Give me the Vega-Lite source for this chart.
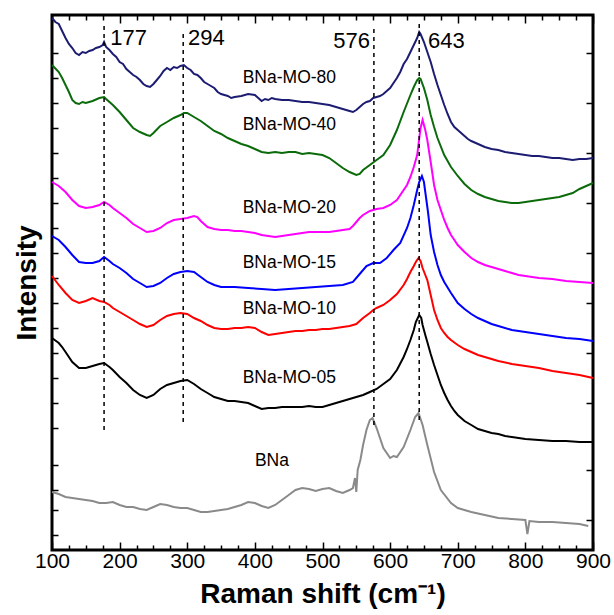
{
  "$schema": "https://vega.github.io/schema/vega-lite/v6.json",
  "width": 541,
  "height": 535,
  "autosize": "none",
  "padding": {"left": 52, "top": 15, "right": 21, "bottom": 65},
  "background": "white",
  "config": {
    "view": {"stroke": "black", "strokeWidth": 3},
    "font": "Liberation Sans",
    "axis": {"grid": false, "domain": false, "tickColor": "black", "tickWidth": 1.5, "labelFont": "Liberation Sans", "titleFont": "Liberation Sans"}
  },
  "layer": [
    {
      "data": {"values": [
        {"s":"BNa-MO-80","x":100,"y":532},{"s":"BNa-MO-80","x":105,"y":528},{"s":"BNa-MO-80","x":110,"y":526},{"s":"BNa-MO-80","x":115,"y":519},{"s":"BNa-MO-80","x":120,"y":512},{"s":"BNa-MO-80","x":125,"y":506},{"s":"BNa-MO-80","x":130,"y":502},{"s":"BNa-MO-80","x":135,"y":497},{"s":"BNa-MO-80","x":140,"y":495},{"s":"BNa-MO-80","x":145,"y":498},{"s":"BNa-MO-80","x":150,"y":497},{"s":"BNa-MO-80","x":155,"y":499},{"s":"BNa-MO-80","x":160,"y":500},{"s":"BNa-MO-80","x":165,"y":502},{"s":"BNa-MO-80","x":170,"y":503},{"s":"BNa-MO-80","x":175,"y":505},{"s":"BNa-MO-80","x":177,"y":508},{"s":"BNa-MO-80","x":180,"y":503},{"s":"BNa-MO-80","x":185,"y":500},{"s":"BNa-MO-80","x":190,"y":496},{"s":"BNa-MO-80","x":195,"y":493},{"s":"BNa-MO-80","x":200,"y":488},{"s":"BNa-MO-80","x":205,"y":486},{"s":"BNa-MO-80","x":210,"y":481},{"s":"BNa-MO-80","x":215,"y":478},{"s":"BNa-MO-80","x":220,"y":475},{"s":"BNa-MO-80","x":225,"y":473},{"s":"BNa-MO-80","x":230,"y":470},{"s":"BNa-MO-80","x":235,"y":466},{"s":"BNa-MO-80","x":240,"y":464},{"s":"BNa-MO-80","x":245,"y":463},{"s":"BNa-MO-80","x":250,"y":466},{"s":"BNa-MO-80","x":255,"y":470},{"s":"BNa-MO-80","x":260,"y":474},{"s":"BNa-MO-80","x":265,"y":479},{"s":"BNa-MO-80","x":270,"y":482},{"s":"BNa-MO-80","x":275,"y":480},{"s":"BNa-MO-80","x":280,"y":483},{"s":"BNa-MO-80","x":285,"y":482},{"s":"BNa-MO-80","x":290,"y":484},{"s":"BNa-MO-80","x":295,"y":485},{"s":"BNa-MO-80","x":300,"y":482},{"s":"BNa-MO-80","x":305,"y":480},{"s":"BNa-MO-80","x":310,"y":476},{"s":"BNa-MO-80","x":315,"y":475},{"s":"BNa-MO-80","x":320,"y":472},{"s":"BNa-MO-80","x":325,"y":468},{"s":"BNa-MO-80","x":330,"y":466},{"s":"BNa-MO-80","x":335,"y":464},{"s":"BNa-MO-80","x":340,"y":462},{"s":"BNa-MO-80","x":345,"y":458},{"s":"BNa-MO-80","x":350,"y":456},{"s":"BNa-MO-80","x":355,"y":455},{"s":"BNa-MO-80","x":360,"y":454},{"s":"BNa-MO-80","x":365,"y":452},{"s":"BNa-MO-80","x":370,"y":453},{"s":"BNa-MO-80","x":380,"y":454},{"s":"BNa-MO-80","x":390,"y":456},{"s":"BNa-MO-80","x":400,"y":455},{"s":"BNa-MO-80","x":405,"y":452},{"s":"BNa-MO-80","x":410,"y":449},{"s":"BNa-MO-80","x":415,"y":451},{"s":"BNa-MO-80","x":420,"y":450},{"s":"BNa-MO-80","x":425,"y":452},{"s":"BNa-MO-80","x":430,"y":451},{"s":"BNa-MO-80","x":440,"y":450},{"s":"BNa-MO-80","x":450,"y":450},{"s":"BNa-MO-80","x":460,"y":449},{"s":"BNa-MO-80","x":470,"y":448},{"s":"BNa-MO-80","x":480,"y":448},{"s":"BNa-MO-80","x":490,"y":447},{"s":"BNa-MO-80","x":500,"y":446},{"s":"BNa-MO-80","x":510,"y":445},{"s":"BNa-MO-80","x":520,"y":443},{"s":"BNa-MO-80","x":530,"y":441},{"s":"BNa-MO-80","x":540,"y":439},{"s":"BNa-MO-80","x":545,"y":438},{"s":"BNa-MO-80","x":550,"y":440},{"s":"BNa-MO-80","x":555,"y":443},{"s":"BNa-MO-80","x":560,"y":446},{"s":"BNa-MO-80","x":565,"y":448},{"s":"BNa-MO-80","x":570,"y":449},{"s":"BNa-MO-80","x":575,"y":452},{"s":"BNa-MO-80","x":580,"y":453},{"s":"BNa-MO-80","x":585,"y":454},{"s":"BNa-MO-80","x":590,"y":456},{"s":"BNa-MO-80","x":595,"y":459},{"s":"BNa-MO-80","x":600,"y":462},{"s":"BNa-MO-80","x":605,"y":467},{"s":"BNa-MO-80","x":610,"y":472},{"s":"BNa-MO-80","x":615,"y":478},{"s":"BNa-MO-80","x":620,"y":486},{"s":"BNa-MO-80","x":625,"y":491},{"s":"BNa-MO-80","x":630,"y":498},{"s":"BNa-MO-80","x":635,"y":505},{"s":"BNa-MO-80","x":640,"y":512},{"s":"BNa-MO-80","x":643,"y":518},{"s":"BNa-MO-80","x":645,"y":516},{"s":"BNa-MO-80","x":650,"y":508},{"s":"BNa-MO-80","x":655,"y":498},{"s":"BNa-MO-80","x":660,"y":488},{"s":"BNa-MO-80","x":665,"y":476},{"s":"BNa-MO-80","x":670,"y":465},{"s":"BNa-MO-80","x":675,"y":455},{"s":"BNa-MO-80","x":680,"y":445},{"s":"BNa-MO-80","x":685,"y":436},{"s":"BNa-MO-80","x":690,"y":428},{"s":"BNa-MO-80","x":695,"y":423},{"s":"BNa-MO-80","x":700,"y":420},{"s":"BNa-MO-80","x":705,"y":417},{"s":"BNa-MO-80","x":710,"y":414},{"s":"BNa-MO-80","x":715,"y":411},{"s":"BNa-MO-80","x":720,"y":409},{"s":"BNa-MO-80","x":730,"y":406},{"s":"BNa-MO-80","x":740,"y":403},{"s":"BNa-MO-80","x":750,"y":401},{"s":"BNa-MO-80","x":760,"y":400},{"s":"BNa-MO-80","x":770,"y":398},{"s":"BNa-MO-80","x":780,"y":397},{"s":"BNa-MO-80","x":790,"y":396},{"s":"BNa-MO-80","x":800,"y":395},{"s":"BNa-MO-80","x":810,"y":394},{"s":"BNa-MO-80","x":820,"y":394},{"s":"BNa-MO-80","x":830,"y":393},{"s":"BNa-MO-80","x":840,"y":392},{"s":"BNa-MO-80","x":850,"y":392},{"s":"BNa-MO-80","x":860,"y":391},{"s":"BNa-MO-80","x":870,"y":390},{"s":"BNa-MO-80","x":880,"y":391},{"s":"BNa-MO-80","x":890,"y":391},{"s":"BNa-MO-80","x":900,"y":392},

        {"s":"BNa-MO-40","x":100,"y":485},{"s":"BNa-MO-40","x":110,"y":478},{"s":"BNa-MO-40","x":115,"y":472},{"s":"BNa-MO-40","x":120,"y":465},{"s":"BNa-MO-40","x":125,"y":458},{"s":"BNa-MO-40","x":130,"y":450},{"s":"BNa-MO-40","x":135,"y":447},{"s":"BNa-MO-40","x":140,"y":446},{"s":"BNa-MO-40","x":145,"y":448},{"s":"BNa-MO-40","x":150,"y":447},{"s":"BNa-MO-40","x":160,"y":449},{"s":"BNa-MO-40","x":170,"y":452},{"s":"BNa-MO-40","x":177,"y":453},{"s":"BNa-MO-40","x":180,"y":451},{"s":"BNa-MO-40","x":185,"y":448},{"s":"BNa-MO-40","x":190,"y":445},{"s":"BNa-MO-40","x":200,"y":438},{"s":"BNa-MO-40","x":210,"y":430},{"s":"BNa-MO-40","x":220,"y":422},{"s":"BNa-MO-40","x":230,"y":418},{"s":"BNa-MO-40","x":240,"y":415},{"s":"BNa-MO-40","x":245,"y":414},{"s":"BNa-MO-40","x":250,"y":417},{"s":"BNa-MO-40","x":260,"y":424},{"s":"BNa-MO-40","x":270,"y":428},{"s":"BNa-MO-40","x":280,"y":432},{"s":"BNa-MO-40","x":290,"y":435},{"s":"BNa-MO-40","x":295,"y":437},{"s":"BNa-MO-40","x":300,"y":437},{"s":"BNa-MO-40","x":310,"y":433},{"s":"BNa-MO-40","x":320,"y":429},{"s":"BNa-MO-40","x":330,"y":424},{"s":"BNa-MO-40","x":340,"y":419},{"s":"BNa-MO-40","x":350,"y":416},{"s":"BNa-MO-40","x":360,"y":412},{"s":"BNa-MO-40","x":370,"y":409},{"s":"BNa-MO-40","x":380,"y":406},{"s":"BNa-MO-40","x":390,"y":404},{"s":"BNa-MO-40","x":400,"y":401},{"s":"BNa-MO-40","x":410,"y":398},{"s":"BNa-MO-40","x":420,"y":397},{"s":"BNa-MO-40","x":430,"y":398},{"s":"BNa-MO-40","x":440,"y":397},{"s":"BNa-MO-40","x":450,"y":398},{"s":"BNa-MO-40","x":460,"y":398},{"s":"BNa-MO-40","x":470,"y":396},{"s":"BNa-MO-40","x":480,"y":397},{"s":"BNa-MO-40","x":490,"y":396},{"s":"BNa-MO-40","x":500,"y":395},{"s":"BNa-MO-40","x":510,"y":392},{"s":"BNa-MO-40","x":520,"y":387},{"s":"BNa-MO-40","x":530,"y":382},{"s":"BNa-MO-40","x":540,"y":378},{"s":"BNa-MO-40","x":550,"y":375},{"s":"BNa-MO-40","x":555,"y":376},{"s":"BNa-MO-40","x":560,"y":380},{"s":"BNa-MO-40","x":570,"y":385},{"s":"BNa-MO-40","x":580,"y":390},{"s":"BNa-MO-40","x":590,"y":395},{"s":"BNa-MO-40","x":600,"y":405},{"s":"BNa-MO-40","x":610,"y":420},{"s":"BNa-MO-40","x":620,"y":438},{"s":"BNa-MO-40","x":630,"y":455},{"s":"BNa-MO-40","x":635,"y":463},{"s":"BNa-MO-40","x":640,"y":470},{"s":"BNa-MO-40","x":643,"y":472},{"s":"BNa-MO-40","x":645,"y":471},{"s":"BNa-MO-40","x":650,"y":462},{"s":"BNa-MO-40","x":655,"y":450},{"s":"BNa-MO-40","x":660,"y":435},{"s":"BNa-MO-40","x":665,"y":423},{"s":"BNa-MO-40","x":670,"y":412},{"s":"BNa-MO-40","x":680,"y":395},{"s":"BNa-MO-40","x":690,"y":383},{"s":"BNa-MO-40","x":700,"y":374},{"s":"BNa-MO-40","x":710,"y":366},{"s":"BNa-MO-40","x":720,"y":360},{"s":"BNa-MO-40","x":730,"y":356},{"s":"BNa-MO-40","x":740,"y":353},{"s":"BNa-MO-40","x":750,"y":351},{"s":"BNa-MO-40","x":760,"y":349},{"s":"BNa-MO-40","x":770,"y":348},{"s":"BNa-MO-40","x":780,"y":347},{"s":"BNa-MO-40","x":790,"y":347},{"s":"BNa-MO-40","x":800,"y":348},{"s":"BNa-MO-40","x":810,"y":349},{"s":"BNa-MO-40","x":820,"y":350},{"s":"BNa-MO-40","x":830,"y":351},{"s":"BNa-MO-40","x":840,"y":352},{"s":"BNa-MO-40","x":850,"y":353},{"s":"BNa-MO-40","x":860,"y":355},{"s":"BNa-MO-40","x":870,"y":357},{"s":"BNa-MO-40","x":880,"y":361},{"s":"BNa-MO-40","x":890,"y":364},{"s":"BNa-MO-40","x":900,"y":367},

        {"s":"BNa-MO-20","x":100,"y":368},{"s":"BNa-MO-20","x":110,"y":364},{"s":"BNa-MO-20","x":120,"y":358},{"s":"BNa-MO-20","x":130,"y":350},{"s":"BNa-MO-20","x":140,"y":344},{"s":"BNa-MO-20","x":150,"y":342},{"s":"BNa-MO-20","x":160,"y":343},{"s":"BNa-MO-20","x":170,"y":345},{"s":"BNa-MO-20","x":177,"y":348},{"s":"BNa-MO-20","x":185,"y":345},{"s":"BNa-MO-20","x":190,"y":342},{"s":"BNa-MO-20","x":200,"y":337},{"s":"BNa-MO-20","x":210,"y":332},{"s":"BNa-MO-20","x":220,"y":326},{"s":"BNa-MO-20","x":230,"y":322},{"s":"BNa-MO-20","x":240,"y":318},{"s":"BNa-MO-20","x":250,"y":319},{"s":"BNa-MO-20","x":260,"y":322},{"s":"BNa-MO-20","x":270,"y":327},{"s":"BNa-MO-20","x":280,"y":330},{"s":"BNa-MO-20","x":290,"y":331},{"s":"BNa-MO-20","x":300,"y":332},{"s":"BNa-MO-20","x":310,"y":334},{"s":"BNa-MO-20","x":315,"y":333},{"s":"BNa-MO-20","x":320,"y":329},{"s":"BNa-MO-20","x":330,"y":323},{"s":"BNa-MO-20","x":340,"y":321},{"s":"BNa-MO-20","x":350,"y":320},{"s":"BNa-MO-20","x":360,"y":320},{"s":"BNa-MO-20","x":370,"y":319},{"s":"BNa-MO-20","x":380,"y":319},{"s":"BNa-MO-20","x":390,"y":318},{"s":"BNa-MO-20","x":400,"y":317},{"s":"BNa-MO-20","x":410,"y":315},{"s":"BNa-MO-20","x":420,"y":314},{"s":"BNa-MO-20","x":430,"y":313},{"s":"BNa-MO-20","x":440,"y":314},{"s":"BNa-MO-20","x":450,"y":315},{"s":"BNa-MO-20","x":460,"y":316},{"s":"BNa-MO-20","x":470,"y":317},{"s":"BNa-MO-20","x":480,"y":318},{"s":"BNa-MO-20","x":490,"y":318},{"s":"BNa-MO-20","x":500,"y":318},{"s":"BNa-MO-20","x":510,"y":318},{"s":"BNa-MO-20","x":520,"y":319},{"s":"BNa-MO-20","x":530,"y":320},{"s":"BNa-MO-20","x":540,"y":321},{"s":"BNa-MO-20","x":545,"y":324},{"s":"BNa-MO-20","x":550,"y":328},{"s":"BNa-MO-20","x":555,"y":332},{"s":"BNa-MO-20","x":560,"y":335},{"s":"BNa-MO-20","x":570,"y":339},{"s":"BNa-MO-20","x":580,"y":341},{"s":"BNa-MO-20","x":590,"y":342},{"s":"BNa-MO-20","x":600,"y":345},{"s":"BNa-MO-20","x":610,"y":350},{"s":"BNa-MO-20","x":620,"y":360},{"s":"BNa-MO-20","x":625,"y":365},{"s":"BNa-MO-20","x":630,"y":373},{"s":"BNa-MO-20","x":635,"y":383},{"s":"BNa-MO-20","x":640,"y":395},{"s":"BNa-MO-20","x":645,"y":422},{"s":"BNa-MO-20","x":648,"y":430},{"s":"BNa-MO-20","x":652,"y":420},{"s":"BNa-MO-20","x":655,"y":410},{"s":"BNa-MO-20","x":660,"y":388},{"s":"BNa-MO-20","x":665,"y":365},{"s":"BNa-MO-20","x":670,"y":350},{"s":"BNa-MO-20","x":675,"y":340},{"s":"BNa-MO-20","x":680,"y":330},{"s":"BNa-MO-20","x":685,"y":322},{"s":"BNa-MO-20","x":690,"y":315},{"s":"BNa-MO-20","x":695,"y":310},{"s":"BNa-MO-20","x":700,"y":305},{"s":"BNa-MO-20","x":710,"y":298},{"s":"BNa-MO-20","x":720,"y":292},{"s":"BNa-MO-20","x":730,"y":288},{"s":"BNa-MO-20","x":740,"y":285},{"s":"BNa-MO-20","x":750,"y":283},{"s":"BNa-MO-20","x":760,"y":281},{"s":"BNa-MO-20","x":770,"y":279},{"s":"BNa-MO-20","x":780,"y":277},{"s":"BNa-MO-20","x":790,"y":275},{"s":"BNa-MO-20","x":800,"y":274},{"s":"BNa-MO-20","x":820,"y":272},{"s":"BNa-MO-20","x":840,"y":271},{"s":"BNa-MO-20","x":860,"y":269},{"s":"BNa-MO-20","x":880,"y":268},{"s":"BNa-MO-20","x":900,"y":267},

        {"s":"BNa-MO-15","x":100,"y":314},{"s":"BNa-MO-15","x":110,"y":310},{"s":"BNa-MO-15","x":120,"y":303},{"s":"BNa-MO-15","x":130,"y":295},{"s":"BNa-MO-15","x":140,"y":288},{"s":"BNa-MO-15","x":150,"y":287},{"s":"BNa-MO-15","x":160,"y":287},{"s":"BNa-MO-15","x":170,"y":289},{"s":"BNa-MO-15","x":177,"y":293},{"s":"BNa-MO-15","x":185,"y":289},{"s":"BNa-MO-15","x":190,"y":286},{"s":"BNa-MO-15","x":200,"y":282},{"s":"BNa-MO-15","x":210,"y":277},{"s":"BNa-MO-15","x":220,"y":271},{"s":"BNa-MO-15","x":230,"y":267},{"s":"BNa-MO-15","x":240,"y":263},{"s":"BNa-MO-15","x":250,"y":264},{"s":"BNa-MO-15","x":260,"y":267},{"s":"BNa-MO-15","x":270,"y":272},{"s":"BNa-MO-15","x":280,"y":276},{"s":"BNa-MO-15","x":290,"y":278},{"s":"BNa-MO-15","x":300,"y":279},{"s":"BNa-MO-15","x":310,"y":278},{"s":"BNa-MO-15","x":320,"y":273},{"s":"BNa-MO-15","x":330,"y":268},{"s":"BNa-MO-15","x":340,"y":265},{"s":"BNa-MO-15","x":350,"y":263},{"s":"BNa-MO-15","x":370,"y":263},{"s":"BNa-MO-15","x":390,"y":262},{"s":"BNa-MO-15","x":410,"y":261},{"s":"BNa-MO-15","x":430,"y":260},{"s":"BNa-MO-15","x":450,"y":261},{"s":"BNa-MO-15","x":470,"y":262},{"s":"BNa-MO-15","x":490,"y":263},{"s":"BNa-MO-15","x":510,"y":264},{"s":"BNa-MO-15","x":530,"y":265},{"s":"BNa-MO-15","x":545,"y":268},{"s":"BNa-MO-15","x":555,"y":276},{"s":"BNa-MO-15","x":565,"y":284},{"s":"BNa-MO-15","x":575,"y":287},{"s":"BNa-MO-15","x":585,"y":287},{"s":"BNa-MO-15","x":595,"y":292},{"s":"BNa-MO-15","x":605,"y":300},{"s":"BNa-MO-15","x":615,"y":307},{"s":"BNa-MO-15","x":625,"y":322},{"s":"BNa-MO-15","x":630,"y":332},{"s":"BNa-MO-15","x":635,"y":345},{"s":"BNa-MO-15","x":640,"y":360},{"s":"BNa-MO-15","x":643,"y":368},{"s":"BNa-MO-15","x":647,"y":374},{"s":"BNa-MO-15","x":650,"y":368},{"s":"BNa-MO-15","x":652,"y":358},{"s":"BNa-MO-15","x":656,"y":338},{"s":"BNa-MO-15","x":660,"y":315},{"s":"BNa-MO-15","x":665,"y":298},{"s":"BNa-MO-15","x":670,"y":285},{"s":"BNa-MO-15","x":675,"y":275},{"s":"BNa-MO-15","x":680,"y":268},{"s":"BNa-MO-15","x":690,"y":257},{"s":"BNa-MO-15","x":700,"y":247},{"s":"BNa-MO-15","x":710,"y":241},{"s":"BNa-MO-15","x":720,"y":236},{"s":"BNa-MO-15","x":730,"y":232},{"s":"BNa-MO-15","x":740,"y":229},{"s":"BNa-MO-15","x":750,"y":226},{"s":"BNa-MO-15","x":760,"y":224},{"s":"BNa-MO-15","x":780,"y":220},{"s":"BNa-MO-15","x":800,"y":218},{"s":"BNa-MO-15","x":820,"y":216},{"s":"BNa-MO-15","x":840,"y":214},{"s":"BNa-MO-15","x":860,"y":212},{"s":"BNa-MO-15","x":880,"y":211},{"s":"BNa-MO-15","x":900,"y":209},

        {"s":"BNa-MO-10","x":100,"y":274},{"s":"BNa-MO-10","x":110,"y":265},{"s":"BNa-MO-10","x":120,"y":257},{"s":"BNa-MO-10","x":130,"y":250},{"s":"BNa-MO-10","x":140,"y":247},{"s":"BNa-MO-10","x":150,"y":249},{"s":"BNa-MO-10","x":160,"y":252},{"s":"BNa-MO-10","x":170,"y":249},{"s":"BNa-MO-10","x":177,"y":248},{"s":"BNa-MO-10","x":185,"y":245},{"s":"BNa-MO-10","x":190,"y":242},{"s":"BNa-MO-10","x":200,"y":238},{"s":"BNa-MO-10","x":210,"y":234},{"s":"BNa-MO-10","x":220,"y":230},{"s":"BNa-MO-10","x":230,"y":226},{"s":"BNa-MO-10","x":240,"y":223},{"s":"BNa-MO-10","x":250,"y":225},{"s":"BNa-MO-10","x":260,"y":230},{"s":"BNa-MO-10","x":270,"y":234},{"s":"BNa-MO-10","x":280,"y":236},{"s":"BNa-MO-10","x":290,"y":237},{"s":"BNa-MO-10","x":300,"y":236},{"s":"BNa-MO-10","x":310,"y":232},{"s":"BNa-MO-10","x":320,"y":229},{"s":"BNa-MO-10","x":330,"y":225},{"s":"BNa-MO-10","x":340,"y":222},{"s":"BNa-MO-10","x":350,"y":221},{"s":"BNa-MO-10","x":360,"y":221},{"s":"BNa-MO-10","x":370,"y":222},{"s":"BNa-MO-10","x":380,"y":222},{"s":"BNa-MO-10","x":390,"y":223},{"s":"BNa-MO-10","x":400,"y":222},{"s":"BNa-MO-10","x":410,"y":218},{"s":"BNa-MO-10","x":420,"y":215},{"s":"BNa-MO-10","x":430,"y":216},{"s":"BNa-MO-10","x":440,"y":217},{"s":"BNa-MO-10","x":450,"y":218},{"s":"BNa-MO-10","x":460,"y":219},{"s":"BNa-MO-10","x":470,"y":219},{"s":"BNa-MO-10","x":480,"y":220},{"s":"BNa-MO-10","x":490,"y":220},{"s":"BNa-MO-10","x":500,"y":221},{"s":"BNa-MO-10","x":510,"y":221},{"s":"BNa-MO-10","x":520,"y":222},{"s":"BNa-MO-10","x":530,"y":223},{"s":"BNa-MO-10","x":540,"y":224},{"s":"BNa-MO-10","x":550,"y":226},{"s":"BNa-MO-10","x":560,"y":232},{"s":"BNa-MO-10","x":570,"y":237},{"s":"BNa-MO-10","x":575,"y":240},{"s":"BNa-MO-10","x":580,"y":242},{"s":"BNa-MO-10","x":590,"y":245},{"s":"BNa-MO-10","x":600,"y":250},{"s":"BNa-MO-10","x":610,"y":256},{"s":"BNa-MO-10","x":620,"y":265},{"s":"BNa-MO-10","x":625,"y":271},{"s":"BNa-MO-10","x":630,"y":278},{"s":"BNa-MO-10","x":635,"y":284},{"s":"BNa-MO-10","x":638,"y":288},{"s":"BNa-MO-10","x":642,"y":292},{"s":"BNa-MO-10","x":645,"y":289},{"s":"BNa-MO-10","x":648,"y":282},{"s":"BNa-MO-10","x":652,"y":275},{"s":"BNa-MO-10","x":655,"y":270},{"s":"BNa-MO-10","x":660,"y":255},{"s":"BNa-MO-10","x":665,"y":240},{"s":"BNa-MO-10","x":670,"y":230},{"s":"BNa-MO-10","x":675,"y":222},{"s":"BNa-MO-10","x":680,"y":217},{"s":"BNa-MO-10","x":685,"y":213},{"s":"BNa-MO-10","x":690,"y":210},{"s":"BNa-MO-10","x":700,"y":205},{"s":"BNa-MO-10","x":710,"y":201},{"s":"BNa-MO-10","x":720,"y":198},{"s":"BNa-MO-10","x":730,"y":195},{"s":"BNa-MO-10","x":740,"y":193},{"s":"BNa-MO-10","x":750,"y":191},{"s":"BNa-MO-10","x":760,"y":189},{"s":"BNa-MO-10","x":780,"y":186},{"s":"BNa-MO-10","x":800,"y":184},{"s":"BNa-MO-10","x":820,"y":182},{"s":"BNa-MO-10","x":840,"y":179},{"s":"BNa-MO-10","x":860,"y":177},{"s":"BNa-MO-10","x":880,"y":175},{"s":"BNa-MO-10","x":900,"y":172},

        {"s":"BNa-MO-05","x":100,"y":212},{"s":"BNa-MO-05","x":110,"y":207},{"s":"BNa-MO-05","x":115,"y":203},{"s":"BNa-MO-05","x":120,"y":198},{"s":"BNa-MO-05","x":130,"y":188},{"s":"BNa-MO-05","x":140,"y":182},{"s":"BNa-MO-05","x":150,"y":182},{"s":"BNa-MO-05","x":160,"y":184},{"s":"BNa-MO-05","x":170,"y":186},{"s":"BNa-MO-05","x":177,"y":187},{"s":"BNa-MO-05","x":185,"y":183},{"s":"BNa-MO-05","x":190,"y":180},{"s":"BNa-MO-05","x":200,"y":173},{"s":"BNa-MO-05","x":210,"y":167},{"s":"BNa-MO-05","x":220,"y":160},{"s":"BNa-MO-05","x":230,"y":155},{"s":"BNa-MO-05","x":240,"y":152},{"s":"BNa-MO-05","x":250,"y":155},{"s":"BNa-MO-05","x":260,"y":161},{"s":"BNa-MO-05","x":270,"y":165},{"s":"BNa-MO-05","x":280,"y":167},{"s":"BNa-MO-05","x":290,"y":169},{"s":"BNa-MO-05","x":300,"y":170},{"s":"BNa-MO-05","x":310,"y":166},{"s":"BNa-MO-05","x":320,"y":161},{"s":"BNa-MO-05","x":330,"y":157},{"s":"BNa-MO-05","x":340,"y":153},{"s":"BNa-MO-05","x":350,"y":151},{"s":"BNa-MO-05","x":360,"y":149},{"s":"BNa-MO-05","x":370,"y":149},{"s":"BNa-MO-05","x":380,"y":148},{"s":"BNa-MO-05","x":390,"y":147},{"s":"BNa-MO-05","x":400,"y":144},{"s":"BNa-MO-05","x":410,"y":141},{"s":"BNa-MO-05","x":420,"y":142},{"s":"BNa-MO-05","x":430,"y":142},{"s":"BNa-MO-05","x":440,"y":143},{"s":"BNa-MO-05","x":450,"y":143},{"s":"BNa-MO-05","x":460,"y":143},{"s":"BNa-MO-05","x":470,"y":143},{"s":"BNa-MO-05","x":480,"y":144},{"s":"BNa-MO-05","x":490,"y":143},{"s":"BNa-MO-05","x":500,"y":143},{"s":"BNa-MO-05","x":510,"y":145},{"s":"BNa-MO-05","x":520,"y":147},{"s":"BNa-MO-05","x":530,"y":149},{"s":"BNa-MO-05","x":540,"y":151},{"s":"BNa-MO-05","x":550,"y":153},{"s":"BNa-MO-05","x":560,"y":155},{"s":"BNa-MO-05","x":570,"y":158},{"s":"BNa-MO-05","x":580,"y":161},{"s":"BNa-MO-05","x":590,"y":166},{"s":"BNa-MO-05","x":600,"y":171},{"s":"BNa-MO-05","x":610,"y":180},{"s":"BNa-MO-05","x":620,"y":193},{"s":"BNa-MO-05","x":625,"y":201},{"s":"BNa-MO-05","x":630,"y":210},{"s":"BNa-MO-05","x":635,"y":220},{"s":"BNa-MO-05","x":638,"y":228},{"s":"BNa-MO-05","x":643,"y":235},{"s":"BNa-MO-05","x":646,"y":232},{"s":"BNa-MO-05","x":648,"y":225},{"s":"BNa-MO-05","x":652,"y":215},{"s":"BNa-MO-05","x":655,"y":208},{"s":"BNa-MO-05","x":660,"y":196},{"s":"BNa-MO-05","x":665,"y":185},{"s":"BNa-MO-05","x":670,"y":175},{"s":"BNa-MO-05","x":675,"y":165},{"s":"BNa-MO-05","x":680,"y":157},{"s":"BNa-MO-05","x":685,"y":150},{"s":"BNa-MO-05","x":690,"y":144},{"s":"BNa-MO-05","x":695,"y":139},{"s":"BNa-MO-05","x":700,"y":135},{"s":"BNa-MO-05","x":710,"y":129},{"s":"BNa-MO-05","x":720,"y":125},{"s":"BNa-MO-05","x":730,"y":121},{"s":"BNa-MO-05","x":740,"y":119},{"s":"BNa-MO-05","x":750,"y":117},{"s":"BNa-MO-05","x":760,"y":116},{"s":"BNa-MO-05","x":770,"y":114},{"s":"BNa-MO-05","x":780,"y":113},{"s":"BNa-MO-05","x":790,"y":112},{"s":"BNa-MO-05","x":800,"y":111},{"s":"BNa-MO-05","x":820,"y":110},{"s":"BNa-MO-05","x":840,"y":109},{"s":"BNa-MO-05","x":860,"y":109},{"s":"BNa-MO-05","x":880,"y":108},{"s":"BNa-MO-05","x":900,"y":108},

        {"s":"BNa","x":100,"y":58},{"s":"BNa","x":110,"y":56},{"s":"BNa","x":120,"y":53},{"s":"BNa","x":130,"y":52},{"s":"BNa","x":140,"y":51},{"s":"BNa","x":150,"y":50},{"s":"BNa","x":160,"y":49},{"s":"BNa","x":170,"y":47},{"s":"BNa","x":180,"y":47},{"s":"BNa","x":190,"y":48},{"s":"BNa","x":200,"y":45},{"s":"BNa","x":210,"y":43},{"s":"BNa","x":220,"y":43},{"s":"BNa","x":230,"y":41},{"s":"BNa","x":240,"y":40},{"s":"BNa","x":250,"y":43},{"s":"BNa","x":260,"y":46},{"s":"BNa","x":270,"y":45},{"s":"BNa","x":280,"y":43},{"s":"BNa","x":290,"y":42},{"s":"BNa","x":300,"y":42},{"s":"BNa","x":310,"y":40},{"s":"BNa","x":320,"y":38},{"s":"BNa","x":330,"y":38},{"s":"BNa","x":340,"y":39},{"s":"BNa","x":350,"y":40},{"s":"BNa","x":360,"y":41},{"s":"BNa","x":370,"y":43},{"s":"BNa","x":380,"y":45},{"s":"BNa","x":390,"y":48},{"s":"BNa","x":400,"y":47},{"s":"BNa","x":410,"y":44},{"s":"BNa","x":420,"y":42},{"s":"BNa","x":430,"y":45},{"s":"BNa","x":440,"y":50},{"s":"BNa","x":450,"y":55},{"s":"BNa","x":460,"y":60},{"s":"BNa","x":470,"y":62},{"s":"BNa","x":480,"y":61},{"s":"BNa","x":490,"y":59},{"s":"BNa","x":500,"y":61},{"s":"BNa","x":510,"y":62},{"s":"BNa","x":520,"y":59},{"s":"BNa","x":530,"y":57},{"s":"BNa","x":540,"y":60},{"s":"BNa","x":545,"y":62},{"s":"BNa","x":548,"y":72},{"s":"BNa","x":550,"y":58},{"s":"BNa","x":552,"y":80},{"s":"BNa","x":556,"y":90},{"s":"BNa","x":560,"y":105},{"s":"BNa","x":565,"y":120},{"s":"BNa","x":570,"y":130},{"s":"BNa","x":574,"y":132},{"s":"BNa","x":580,"y":122},{"s":"BNa","x":590,"y":102},{"s":"BNa","x":600,"y":92},{"s":"BNa","x":605,"y":94},{"s":"BNa","x":610,"y":93},{"s":"BNa","x":620,"y":103},{"s":"BNa","x":630,"y":120},{"s":"BNa","x":637,"y":133},{"s":"BNa","x":642,"y":137},{"s":"BNa","x":648,"y":125},{"s":"BNa","x":655,"y":105},{"s":"BNa","x":665,"y":78},{"s":"BNa","x":675,"y":60},{"s":"BNa","x":690,"y":47},{"s":"BNa","x":700,"y":42},{"s":"BNa","x":720,"y":38},{"s":"BNa","x":740,"y":35},{"s":"BNa","x":760,"y":32},{"s":"BNa","x":780,"y":31},{"s":"BNa","x":800,"y":30},{"s":"BNa","x":803,"y":16},{"s":"BNa","x":806,"y":29},{"s":"BNa","x":820,"y":28},{"s":"BNa","x":840,"y":28},{"s":"BNa","x":860,"y":27},{"s":"BNa","x":880,"y":26},{"s":"BNa","x":893,"y":24}
      ]},
      "mark": {"type": "line", "interpolate": "linear"},
      "encoding": {
        "x": {"field": "x", "type": "quantitative", "scale": {"domain": [100, 900], "nice": false, "zero": false},
          "axis": {"orient": "bottom", "values": [100,125,150,175,200,225,250,275,300,325,350,375,400,425,450,475,500,525,550,575,600,625,650,675,700,725,750,775,800,825,850,875,900],
            "labelExpr": "datum.value % 100 === 0 ? datum.label : ''", "labelFlush": false, "labelBound": false, "labelOverlap": false,
            "tickSize": {"condition": {"test": "datum.value % 100 === 0", "value": -8}, "value": -5},
            "labelFontSize": 21, "labelColor": "black", "labelPadding": 8,
            "title": "Raman shift (cm⁻¹)", "titleFontSize": 28, "titleFontWeight": "bold", "titleColor": "black", "titlePadding": 6}},
        "y": {"field": "y", "type": "quantitative", "scale": {"domain": [0, 535], "nice": false, "zero": false},
          "axis": {"orient": "left", "values": [497,472,447,422,397,372,347,322,297,272,247,222,197,172,147,122,85,60,40,15],
            "labels": false, "tickSize": -6,
            "title": "Intensity", "titleFontSize": 28, "titleFontWeight": "bold", "titleColor": "black", "titlePadding": 10}},
        "color": {"field": "s", "type": "nominal", "legend": null,
          "scale": {"domain": ["BNa-MO-80","BNa-MO-40","BNa-MO-20","BNa-MO-15","BNa-MO-10","BNa-MO-05","BNa"],
                    "range": ["#1c1c72","#0b6b0b","#ff00ff","#0000ff","#ff0000","#000000","#8a8a8a"]}},
        "strokeWidth": {"field": "s", "type": "nominal", "legend": null,
          "scale": {"domain": ["BNa-MO-80","BNa-MO-40","BNa-MO-20","BNa-MO-15","BNa-MO-10","BNa-MO-05","BNa"],
                    "range": [2,2,2,2,2,2,1]}}
      }
    },
    {
      "data": {"values": [
        {"x": 177, "y1": 120, "y2": 525},
        {"x": 294, "y1": 128, "y2": 518},
        {"x": 576, "y1": 125, "y2": 522},
        {"x": 643, "y1": 130, "y2": 527}
      ]},
      "mark": {"type": "rule", "color": "black", "strokeWidth": 1.5, "strokeDash": [4, 4]},
      "encoding": {
        "x": {"field": "x", "type": "quantitative",
          "axis": {"orient": "top", "values": [100,125,150,175,200,225,250,275,300,325,350,375,400,425,450,475,500,525,550,575,600,625,650,675,700,725,750,775,800,825,850,875,900],
            "labels": false, "title": null,
            "tickSize": {"condition": {"test": "datum.value % 100 === 0", "value": -8}, "value": -5}}},
        "y": {"field": "y1", "type": "quantitative",
          "axis": {"orient": "right", "values": [497,447,397,347,297,247,197,147,80,30], "labels": false, "title": null, "tickSize": -7}},
        "y2": {"field": "y2"}
      }
    },
    {
      "data": {"values": [
        {"t": "177", "x": 186, "y": 512},
        {"t": "294", "x": 301, "y": 512},
        {"t": "576", "x": 516, "y": 509},
        {"t": "643", "x": 656, "y": 509}
      ]},
      "mark": {"type": "text", "align": "left", "baseline": "middle", "fontSize": 22, "font": "Liberation Sans", "color": "black"},
      "encoding": {
        "x": {"field": "x", "type": "quantitative", "axis": null},
        "y": {"field": "y", "type": "quantitative", "axis": null},
        "text": {"field": "t"}
      }
    },
    {
      "data": {"values": [
        {"t": "BNa-MO-80", "x": 382, "y": 472},
        {"t": "BNa-MO-40", "x": 382, "y": 425},
        {"t": "BNa-MO-20", "x": 382, "y": 342},
        {"t": "BNa-MO-15", "x": 382, "y": 287},
        {"t": "BNa-MO-10", "x": 382, "y": 241},
        {"t": "BNa-MO-05", "x": 382, "y": 172},
        {"t": "BNa", "x": 400, "y": 89}
      ]},
      "mark": {"type": "text", "align": "left", "baseline": "middle", "fontSize": 17.5, "font": "Liberation Sans", "color": "black"},
      "encoding": {
        "x": {"field": "x", "type": "quantitative", "axis": null},
        "y": {"field": "y", "type": "quantitative", "axis": null},
        "text": {"field": "t"}
      }
    }
  ],
  "resolve": {"axis": {"x": "independent", "y": "independent"}}
}
